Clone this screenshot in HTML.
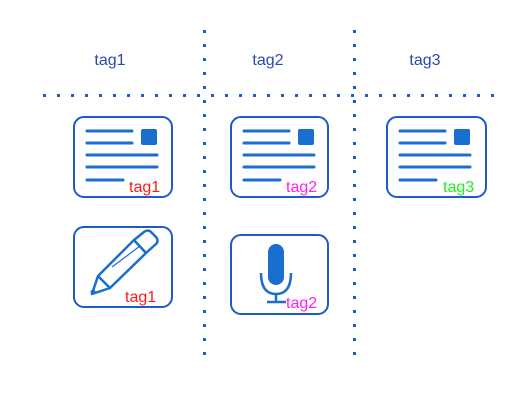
<!DOCTYPE html>
<html><head><meta charset="utf-8"><style>
html,body{margin:0;padding:0;background:#fff;}
svg{display:block;font-family:"Liberation Sans",Arial,sans-serif;}
</style></head><body>
<svg width="530" height="414" viewBox="0 0 530 414" xmlns="http://www.w3.org/2000/svg">
<defs>
<g id="doc">
<line x1="14" y1="15" x2="59" y2="15"/>
<line x1="14" y1="27" x2="59" y2="27"/>
<line x1="14" y1="39" x2="84" y2="39"/>
<line x1="14" y1="51" x2="84" y2="51"/>
<line x1="14" y1="64" x2="50" y2="64"/>
<rect x="68" y="13" width="16" height="16" rx="2" fill="#1a6ecf" stroke="none"/>
</g>
</defs>
<line x1="204.5" y1="30" x2="204.5" y2="362" stroke="#1f5bc4" stroke-width="3" stroke-dasharray="3 11"/>
<line x1="354.5" y1="30" x2="354.5" y2="362" stroke="#1f5bc4" stroke-width="3" stroke-dasharray="3 11"/>
<line x1="43" y1="95.5" x2="505" y2="95.5" stroke="#1f5bc4" stroke-width="3" stroke-dasharray="3 11"/>
<g font-size="16" fill="#2a48b0" text-anchor="middle">
<text x="110" y="65">tag1</text>
<text x="268" y="65">tag2</text>
<text x="425" y="65">tag3</text>
</g>
<g fill="none" stroke="#1f5bc4" stroke-width="2">
<rect x="74" y="117" width="98" height="80" rx="10"/>
<rect x="231" y="117" width="97" height="80" rx="10"/>
<rect x="387" y="117" width="99" height="80" rx="10"/>
<rect x="74" y="227" width="98" height="80" rx="10"/>
<rect x="231" y="235" width="97" height="79" rx="10"/>
</g>
<g stroke="#1a6ecf" stroke-width="3" stroke-linecap="round" fill="none">
<use href="#doc" transform="translate(73,116)"/>
<use href="#doc" transform="translate(230,116)"/>
<use href="#doc" transform="translate(386,116)"/>
</g>
<g stroke="#1a6ecf" stroke-width="2.5" fill="none" stroke-linejoin="round">
<path d="M134,240 L144,232 Q148,229 151,232 L156,237 Q159,241 156,244 L146,253 L110,288 L92,294 L98,276 Z"/>
<line x1="134" y1="240" x2="146" y2="253"/>
<line x1="98" y1="276" x2="110" y2="288"/>
<line x1="112" y1="267" x2="140" y2="246" stroke-width="1.2"/>
</g>
<circle cx="93" cy="292" r="2.5" fill="#1a6ecf"/>
<rect x="268" y="244" width="16" height="41" rx="8" fill="#1a6ecf"/>
<path d="M261,273 Q261,294 276,294 Q291,294 291,273" fill="none" stroke="#1a6ecf" stroke-width="2.5"/>
<line x1="276" y1="294" x2="276" y2="302" stroke="#1a6ecf" stroke-width="2.5"/>
<line x1="267" y1="302" x2="286" y2="302" stroke="#1a6ecf" stroke-width="2.5"/>
<g font-size="16">
<text x="129" y="192" fill="#ff1a1a">tag1</text>
<text x="286" y="192" fill="#ff22ee">tag2</text>
<text x="443" y="192" fill="#22ee22">tag3</text>
<text x="125" y="302" fill="#ff1a1a">tag1</text>
<text x="286" y="308" fill="#ff22ee">tag2</text>
</g>
</svg>
</body></html>
